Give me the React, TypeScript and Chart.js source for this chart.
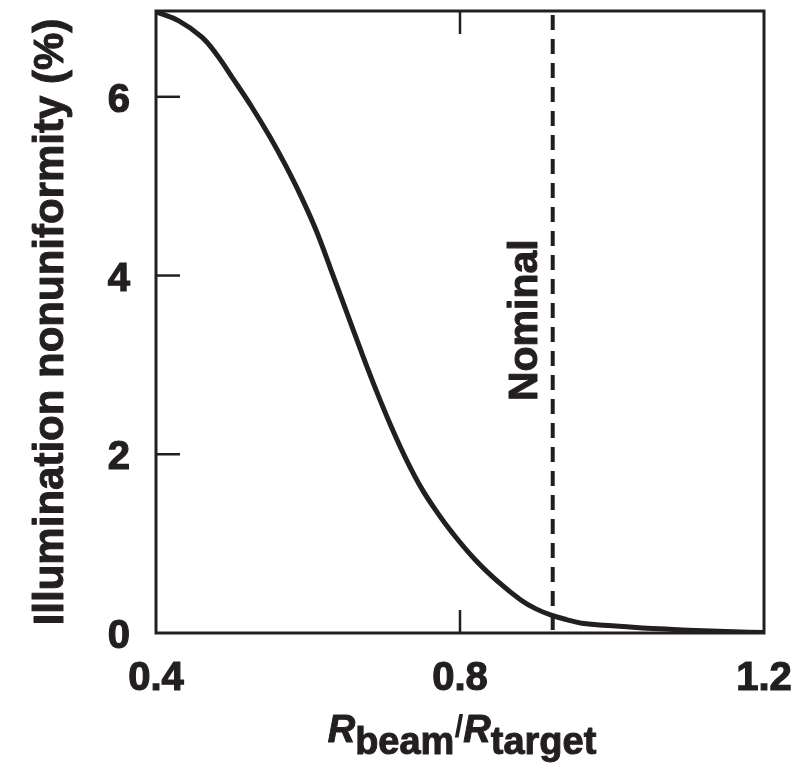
import React, { useEffect, useRef } from "react";
import { Chart, registerables } from "chart.js";

Chart.register(...registerables);

// ---- data ----
const beamRatio = [
  0.4, 0.43, 0.46, 0.48, 0.5, 0.525, 0.55, 0.57, 0.59, 0.61, 0.63, 0.65, 0.67,
  0.69, 0.71, 0.73, 0.75, 0.77, 0.79, 0.82, 0.85, 0.88, 0.9, 0.92, 0.94, 0.96,
  1.0, 1.04, 1.08, 1.12, 1.16, 1.2,
];
const nonuniformity = [
  6.95, 6.85, 6.67, 6.47, 6.22, 5.9, 5.55, 5.24, 4.9, 4.52, 4.07, 3.61, 3.15,
  2.71, 2.3, 1.93, 1.61, 1.35, 1.12, 0.82, 0.575, 0.37, 0.27, 0.2, 0.15, 0.11,
  0.08, 0.057, 0.04, 0.025, 0.014, 0.006,
];
const xTickValues = [0.4, 0.8, 1.2];
const yTickValues = [0, 2, 4, 6];
const nominalRatio = 0.922;
const nominalText = "Nominal";
const yTitleText = "Illumination nonuniformity (%)";
const xTitleMain = "R";
const xTitleSubBeam = "beam";
const xTitleSlash = "/";
const xTitleSubTarget = "target";

const INK = "#231f20";
const FONT = "'Liberation Sans', Arial, Helvetica, sans-serif";

function heavyText(ctx: CanvasRenderingContext2D, text: string, x: number, y: number, sw: number) {
  ctx.fillText(text, x, y);
  if (sw > 0) {
    ctx.lineWidth = sw;
    ctx.lineJoin = "round";
    ctx.strokeText(text, x, y);
  }
}

const framePlugin = {
  id: "frame",
  afterDatasetsDraw(chart: any) {
    const { ctx, chartArea: a, scales } = chart;
    const x = scales.x;
    const y = scales.y;
    ctx.save();
    ctx.strokeStyle = INK;
    ctx.fillStyle = INK;

    // dashed nominal line
    const nx = x.getPixelForValue(nominalRatio);
    ctx.lineWidth = 4;
    ctx.setLineDash([15, 9]);
    ctx.beginPath();
    ctx.moveTo(nx, a.top + 4);
    ctx.lineTo(nx, a.bottom);
    ctx.stroke();
    ctx.setLineDash([]);

    // frame
    ctx.lineWidth = 3;
    ctx.strokeRect(a.left, a.top, a.right - a.left, a.bottom - a.top);

    // inward ticks
    ctx.lineWidth = 2.5;
    x.ticks.forEach((t: any) => {
      const px = x.getPixelForValue(t.value);
      if (px > a.left + 3 && px < a.right - 3) {
        ctx.beginPath();
        ctx.moveTo(px, a.bottom);
        ctx.lineTo(px, a.bottom - 23);
        ctx.moveTo(px, a.top);
        ctx.lineTo(px, a.top + 23);
        ctx.stroke();
      }
    });
    y.ticks.forEach((t: any) => {
      const py = y.getPixelForValue(t.value);
      if (py < a.bottom - 3 && py > a.top + 3) {
        ctx.beginPath();
        ctx.moveTo(a.left, py);
        ctx.lineTo(a.left + 24, py);
        ctx.stroke();
      }
    });

    // Nominal label
    ctx.save();
    ctx.translate(nx - 16, y.getPixelForValue(3.5));
    ctx.rotate(-Math.PI / 2);
    ctx.font = `bold 41px ${FONT}`;
    ctx.textAlign = "center";
    ctx.textBaseline = "alphabetic";
    heavyText(ctx, nominalText, 0, 0, 1);
    ctx.restore();

    // y title
    ctx.save();
    ctx.translate(63, (a.top + a.bottom) / 2);
    ctx.rotate(-Math.PI / 2);
    ctx.font = `bold 42px ${FONT}`;
    ctx.textAlign = "center";
    ctx.textBaseline = "alphabetic";
    heavyText(ctx, yTitleText, 0, 0, 1);
    ctx.restore();

    // x title with subscripts
    const mainFont = `italic bold 38px ${FONT}`;
    const subFont = `bold 38px ${FONT}`;
    const slashFont = `bold 32px ${FONT}`;
    const parts = [
      { t: xTitleMain, f: mainFont, dy: 0, sw: 1 },
      { t: xTitleSubBeam, f: subFont, dy: 12, sw: 1 },
      { t: xTitleSlash, f: slashFont, dy: -5, sw: 0 },
      { t: xTitleMain, f: mainFont, dy: 0, sw: 1 },
      { t: xTitleSubTarget, f: subFont, dy: 12, sw: 1 },
    ];
    let total = 0;
    const widths = parts.map((p) => {
      ctx.font = p.f;
      const w = ctx.measureText(p.t).width;
      total += w;
      return w;
    });
    let cx = (a.left + a.right) / 2 + 2 - total / 2;
    const base = a.bottom + 109;
    ctx.textAlign = "left";
    ctx.textBaseline = "alphabetic";
    parts.forEach((p, i) => {
      ctx.font = p.f;
      heavyText(ctx, p.t, cx, base + p.dy, p.sw);
      cx += widths[i];
    });

    ctx.restore();
  },
};

export default function App() {
  const ref = useRef<HTMLCanvasElement | null>(null);

  useEffect(() => {
    if (!ref.current) return;
    const tickFont = { family: FONT, size: 40, weight: "bold" };
    const chart = new Chart(ref.current, {
      type: "line",
      data: {
        datasets: [
          {
            data: beamRatio.map((r, i) => ({ x: r, y: nonuniformity[i] })),
            borderColor: INK,
            borderWidth: 5,
            pointRadius: 0,
            fill: false,
            tension: 0.4,
          },
        ],
      },
      options: {
        animation: false,
        responsive: false,
        devicePixelRatio: 1,
        layout: { padding: { top: 11, right: 43, bottom: 0, left: 0 } },
        plugins: {
          legend: { display: false },
          tooltip: { enabled: false },
        },
        scales: {
          x: {
            type: "linear",
            min: 0.4,
            max: 1.2,
            afterBuildTicks: (s: any) => {
              s.ticks = xTickValues.map((v) => ({ value: v }));
            },
            afterFit: (s: any) => {
              s.height = 132;
              s.paddingLeft = 0;
              s.paddingRight = 0;
            },
            grid: { display: false, drawTicks: false },
            border: { display: false },
            ticks: {
              color: INK,
              font: tickFont,
              textStrokeColor: INK,
              textStrokeWidth: 1.2,
              padding: 22,
              maxRotation: 0,
              autoSkip: false,
              callback: (v: any) => Number(v).toFixed(1),
            },
          },
          y: {
            type: "linear",
            min: 0,
            max: 6.96,
            afterBuildTicks: (s: any) => {
              s.ticks = yTickValues.map((v) => ({ value: v }));
            },
            afterFit: (s: any) => {
              s.width = 156;
              s.paddingTop = 0;
              s.paddingBottom = 0;
            },
            grid: { display: false, drawTicks: false },
            border: { display: false },
            ticks: {
              color: INK,
              font: tickFont,
              textStrokeColor: INK,
              textStrokeWidth: 1.2,
              padding: 26,
              labelOffset: 4,
              callback: (v: any) => String(v),
            },
          },
        },
      },
      plugins: [framePlugin],
    } as any);
    return () => chart.destroy();
  }, []);

  return (
    <div style={{ position: "absolute", left: 0, top: 0, width: 807, height: 765, background: "#fff" }}>
      <canvas ref={ref} width={807} height={765} style={{ display: "block" }} />
    </div>
  );
}
